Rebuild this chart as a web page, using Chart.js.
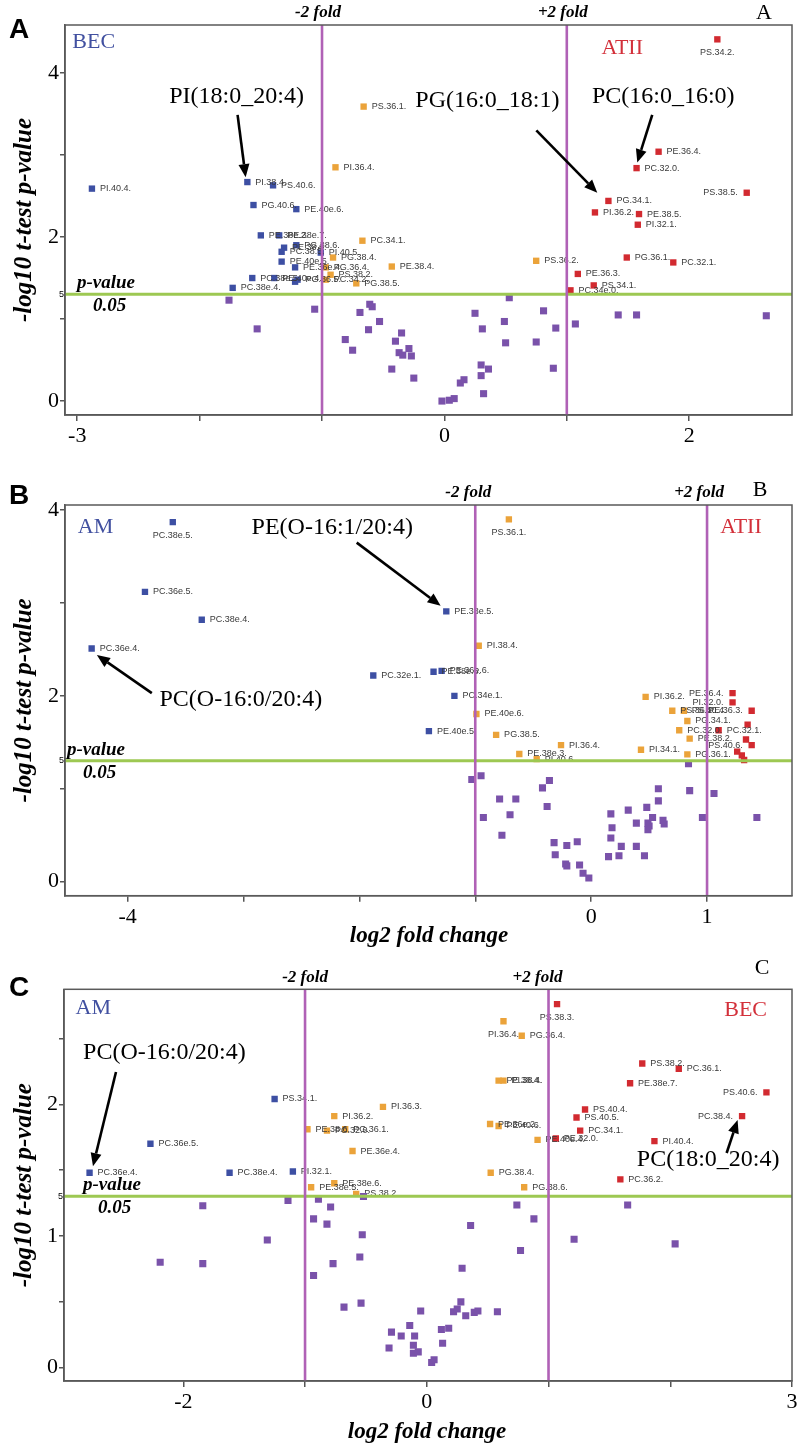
<!DOCTYPE html>
<html>
<head>
<meta charset="utf-8">
<script src="https://cdn.jsdelivr.net/npm/chart.js@4.4.0/dist/chart.umd.min.js"></script>
<style>
  html, body { margin: 0; padding: 0; background: #fff; }
  #wrap { position: relative; width: 797px; height: 1449px; overflow: hidden; }
  #wrap canvas { position: absolute; left: 0; }
</style>
</head>
<body>
<div id="wrap">
  <canvas id="chartA" width="797" height="450" style="top:0"></canvas>
  <canvas id="chartB" width="797" height="500" style="top:450px"></canvas>
  <canvas id="chartC" width="797" height="499" style="top:950px"></canvas>
</div>
<script>
// ---- Panel A: BEC vs ATII  [name, log2 fold change, -log10 p] ----
const aBlue = [
  ['PI.40.4.', -2.88, 2.59], ['PI.38.4.', -1.61, 2.67], ['PS.40.6.', -1.40, 2.63],
  ['PG.40.6.', -1.56, 2.39], ['PE.40e.6.', -1.21, 2.34], ['PE.38e.2.', -1.50, 2.02],
  ['PE.38e.7.', -1.35, 2.02], ['PG.38.6.', -1.21, 1.90], ['PE.38.6.', -1.31, 1.87],
  ['PC.38.5.', -1.33, 1.82], ['PI.40.5.', -1.01, 1.81], ['PE.40e.5.', -1.33, 1.70],
  ['PE.36e.4.', -1.22, 1.63], ['PC.38e.5.', -1.57, 1.50], ['PE.40e.4.', -1.39, 1.50],
  ['PG.36.5.', -1.20, 1.48], ['', -1.22, 1.455], ['PC.38e.4.', -1.73, 1.38]
];
const aOrange = [
  ['PS.36.1.', -0.66, 3.59], ['PI.36.4.', -0.89, 2.85], ['PC.34.1.', -0.67, 1.955],
  ['PG.38.4.', -0.91, 1.75], ['PE.38.4.', -0.43, 1.64], ['PG.36.4.', -0.97, 1.63],
  ['PS.38.2.', -0.93, 1.54], ['PC.34.2.', -0.97, 1.48], ['PG.38.5.', -0.72, 1.435],
  ['PS.36.2.', 0.75, 1.71]
];
const aRed = [
  ['PS.34.2.', 2.23, 4.41], ['PE.36.4.', 1.75, 3.04], ['PC.32.0.', 1.57, 2.84],
  ['PS.38.5.', 2.47, 2.54], ['PG.34.1.', 1.34, 2.44], ['PI.36.2.', 1.23, 2.30],
  ['PE.38.5.', 1.59, 2.28], ['PI.32.1.', 1.58, 2.15], ['PG.36.1.', 1.49, 1.75],
  ['PC.32.1.', 1.87, 1.69], ['PE.36.3.', 1.09, 1.55], ['PS.34.1.', 1.22, 1.41],
  ['PC.34e.0.', 1.03, 1.35]
];
const aPurple = [
  [-1.76, 1.23], [-1.06, 1.12], [-1.53, 0.88], [-0.61, 1.18], [-0.59, 1.15], [-0.69, 1.08],
  [-0.53, 0.97], [-0.62, 0.87], [-0.81, 0.75], [-0.75, 0.62], [-0.35, 0.83], [-0.40, 0.73],
  [-0.29, 0.64], [-0.37, 0.59], [-0.34, 0.56], [-0.27, 0.55], [-0.43, 0.39], [-0.25, 0.28],
  [0.53, 1.26], [0.25, 1.07], [0.81, 1.10], [0.31, 0.88], [0.49, 0.97], [0.91, 0.89],
  [1.07, 0.94], [1.42, 1.05], [1.57, 1.05], [2.63, 1.04], [0.50, 0.71], [0.75, 0.72],
  [0.30, 0.44], [0.36, 0.39], [0.30, 0.31], [0.89, 0.40], [0.16, 0.26], [0.13, 0.22],
  [0.32, 0.09], [-0.02, 0.00], [0.04, 0.01], [0.08, 0.03]
];
const aXLabels = [-3, 0, 2];
const aYLabels = [0, 2, 4];

// ---- Panel B: AM vs ATII ----
const bBlue = [
  ['PC.38e.5.', -3.61, 3.87], ['PC.36e.5.', -3.85, 3.12], ['PC.38e.4.', -3.36, 2.82],
  ['PC.36e.4.', -4.31, 2.51], ['PC.32e.1.', -1.88, 2.22], ['PE.38e.6.', -1.36, 2.26],
  ['PE.36e.6.', -1.29, 2.27], ['PE.38e.5.', -1.25, 2.91], ['PC.34e.1.', -1.18, 2.00],
  ['PE.40e.5.', -1.40, 1.62]
];
const bOrange = [
  ['PS.36.1.', -0.71, 3.90], ['PI.38.4.', -0.97, 2.54], ['PE.40e.6.', -0.99, 1.805],
  ['PG.38.5.', -0.82, 1.58], ['PI.36.4.', -0.26, 1.47], ['PE.38e.3.', -0.62, 1.375],
  ['PI.40.6.', -0.47, 1.32], ['PI.36.2.', 0.47, 1.99], ['PI.34.1.', 0.43, 1.42],
  ['PS.36.2.', 0.70, 1.84], ['PS.40.4.', 0.80, 1.84], ['PG.34.1.', 0.83, 1.73],
  ['PC.32.0.', 0.76, 1.63], ['PE.38.2.', 0.85, 1.54], ['PG.36.1.', 0.83, 1.37]
];
const bRed = [
  ['PE.36.4.', 1.22, 2.03], ['PI.32.0.', 1.22, 1.93], ['PE.36.3.', 1.385, 1.84],
  ['PC.32.1.', 1.10, 1.63], ['', 1.35, 1.69], ['', 1.336, 1.53],
  ['PS.40.6.', 1.385, 1.47], ['', 1.26, 1.40], ['', 1.30, 1.36], ['', 1.32, 1.31]
];
const bPurple = [
  [0.84, 1.27], [-1.03, 1.10], [-0.95, 1.14], [-0.36, 1.09], [-0.42, 1.01], [-0.79, 0.89],
  [-0.65, 0.89], [-0.38, 0.81], [-0.93, 0.69], [-0.70, 0.72], [-0.77, 0.50], [-0.32, 0.42],
  [-0.21, 0.39], [-0.12, 0.43], [-0.31, 0.29], [-0.22, 0.19], [-0.21, 0.17], [-0.10, 0.18],
  [-0.07, 0.09], [-0.02, 0.04], [0.17, 0.73], [0.18, 0.58], [0.17, 0.47], [0.15, 0.27],
  [0.24, 0.28], [0.26, 0.38], [0.32, 0.77], [0.39, 0.63], [0.39, 0.38], [0.46, 0.28],
  [0.48, 0.80], [0.49, 0.63], [0.50, 0.60], [0.49, 0.56], [0.53, 0.69], [0.58, 1.00],
  [0.58, 0.87], [0.62, 0.66], [0.63, 0.62], [0.85, 0.98], [0.96, 0.69], [1.06, 0.95],
  [1.43, 0.69]
];
const bXLabels = [-4, 0, 1];
const bYLabels = [0, 2, 4];

// ---- Panel C: AM vs BEC ----
const cBlue = [
  ['PS.34.1.', -1.25, 2.04], ['PC.36e.5.', -2.27, 1.70], ['PC.36e.4.', -2.77, 1.48],
  ['PC.38e.4.', -1.62, 1.48], ['PI.32.1.', -1.10, 1.49]
];
const cOrange = [
  ['PI.36.3.', -0.36, 1.98], ['PI.36.2.', -0.76, 1.91], ['PE.38.6.', -0.98, 1.81],
  ['PC.32.0.', -0.82, 1.80], ['PG.36.1.', -0.67, 1.81], ['PE.36e.4.', -0.61, 1.645],
  ['PE.38e.6.', -0.76, 1.40], ['PE.38e.5.', -0.95, 1.37], ['PS.38.2.', -0.58, 1.32],
  ['PI.36.4.', 0.63, 2.63], ['PG.36.4.', 0.78, 2.52], ['PE.38.4.', 0.59, 2.18],
  ['PI.38.4.', 0.63, 2.18], ['PE.36e.2.', 0.52, 1.85], ['PE.40.6.', 0.59, 1.835],
  ['PE.40e.4.', 0.91, 1.73], ['PG.38.4.', 0.525, 1.48], ['PG.38.6.', 0.80, 1.37]
];
const cRed = [
  ['PS.38.3.', 1.07, 2.76], ['PS.38.2.', 1.77, 2.31], ['PC.36.1.', 2.07, 2.27],
  ['PE.38e.7.', 1.67, 2.16], ['PS.40.6.', 2.79, 2.09], ['PC.38.4.', 2.59, 1.91],
  ['PS.40.4.', 1.30, 1.96], ['PS.40.5.', 1.23, 1.90], ['PC.34.1.', 1.26, 1.80],
  ['PE.32.0.', 1.06, 1.74], ['PI.40.4.', 1.87, 1.72], ['PC.36.2.', 1.59, 1.43]
];
const cPurple = [
  [-1.84, 1.23], [-1.14, 1.27], [-0.89, 1.28], [-0.79, 1.22], [-0.52, 1.30], [-0.93, 1.13],
  [-0.82, 1.09], [-0.53, 1.01], [-1.31, 0.97], [-0.55, 0.84], [-2.19, 0.80], [-1.84, 0.79],
  [-0.77, 0.79], [-0.93, 0.70], [-0.68, 0.46], [-0.54, 0.49], [-0.05, 0.43], [-0.29, 0.27],
  [-0.14, 0.32], [-0.21, 0.24], [-0.10, 0.24], [-0.11, 0.17], [-0.31, 0.15], [-0.11, 0.11],
  [-0.07, 0.12], [0.04, 0.04], [0.06, 0.06], [0.74, 1.235], [0.88, 1.13], [0.36, 1.08],
  [1.21, 0.975], [1.65, 1.235], [2.04, 0.94], [0.77, 0.89], [0.29, 0.755], [0.28, 0.50],
  [0.22, 0.425], [0.25, 0.445], [0.32, 0.395], [0.39, 0.42], [0.42, 0.43], [0.58, 0.425],
  [0.12, 0.29], [0.18, 0.30], [0.13, 0.185]
];
const cXLabels = [-2, 0, 3];
const cYLabels = [0, 1, 2];

const foldLines = [-1, 1];            // log2 of 2-fold
const pCut = -Math.log10(0.05);       // p = 0.05

const SERIF = '"Liberation Serif", "Times New Roman", serif';
const SANS = '"Liberation Sans", Arial, sans-serif';
const C_BLUE = '#3d4fa3', C_ORANGE = '#eba33a', C_RED = '#d22a30', C_PURPLE = '#7a52aa';
const C_FOLD = '#b061b6', C_PLINE = '#9dc852';
const T_BLUE = '#4150a0', T_RED = '#d3303a';

// layout in page pixels
const panels = [
  {
    id: 'chartA', top: 0, height: 450, area: { left: 65, top: 25, right: 793, bottom: 415 },
    x: [-3.1, 2.84], y: [-0.17, 4.585], yStep: 1,
    blue: aBlue, orange: aOrange, red: aRed, purple: aPurple, xLabels: aXLabels, yLabels: aYLabels,
    letter: 'A', letterPos: [19, 30], cornerPos: [764, 13], xTitle: [429, 462], foldDx: [-4, -4],
    pText: [77, 93],
    sides: { 'PS.34.2.': 'b', 'PS.38.5.': 'l' },
    groups: [['BEC', T_BLUE, -2.865, 4.38], ['ATII', T_RED, 1.453, 4.30]],
    notes: [
      ['PI(18:0_20:4)', -1.698, 3.71, -1.69, 3.49, -1.624, 2.73],
      ['PG(16:0_18:1)', 0.351, 3.66, 0.751, 3.30, 1.249, 2.54],
      ['PC(16:0_16:0)', 1.788, 3.71, 1.698, 3.49, 1.576, 2.91]
    ]
  },
  {
    id: 'chartB', top: 450, height: 500, area: { left: 65, top: 505, right: 792.7, bottom: 895.7 },
    x: [-4.54, 1.733], y: [-0.151, 4.055], yStep: 1,
    blue: bBlue, orange: bOrange, red: bRed, purple: bPurple, xLabels: bXLabels, yLabels: bYLabels,
    letter: 'B', letterPos: [19, 496], cornerPos: [760, 490], xTitle: [429, 936], foldDx: [-7, -8],
    pText: [67, 83],
    sides: { 'PC.38e.5.': 'b', 'PS.36.1.': 'b', 'PE.36.4.': 'l', 'PI.32.0.': 'l', 'PE.36.3.': 'l', 'PS.40.6.': 'l' },
    groups: [['AM', T_BLUE, -4.277, 3.82], ['ATII', T_RED, 1.293, 3.82]],
    notes: [
      ['PE(O-16:1/20:4)', -2.234, 3.81, -2.023, 3.65, -1.299, 2.97],
      ['PC(O-16:0/20:4)', -3.023, 1.96, -3.791, 2.03, -4.265, 2.44]
    ]
  },
  {
    id: 'chartC', top: 950, height: 499, area: { left: 64, top: 989.3, right: 792.7, bottom: 1381 },
    x: [-2.98, 3.0], y: [-0.101, 2.873], yStep: 0.5,
    blue: cBlue, orange: cOrange, red: cRed, purple: cPurple, xLabels: cXLabels, yLabels: cYLabels,
    letter: 'C', letterPos: [19, 988], cornerPos: [762, 968], xTitle: [427, 1432], foldDx: [0, -11],
    pText: [83, 98],
    sides: { 'PS.38.3.': 'b', 'PI.36.4.': 'b', 'PS.40.6.': 'l', 'PC.38.4.': 'l' },
    groups: [['AM', T_BLUE, -2.74, 2.73], ['BEC', T_RED, 2.619, 2.716]],
    notes: [
      ['PC(O-16:0/20:4)', -2.155, 2.39, -2.553, 2.245, -2.742, 1.53],
      ['PC(18:0_20:4)', 2.311, 1.577, 2.463, 1.63, 2.553, 1.88]
    ]
  }
];

function drawArrow(ctx, x1, y1, x2, y2) {
  const a = Math.atan2(y2 - y1, x2 - x1);
  const len = 13, half = 5.5;
  const bx = x2 - len * Math.cos(a), by = y2 - len * Math.sin(a);
  ctx.beginPath();
  ctx.moveTo(x1, y1);
  ctx.lineTo(bx, by);
  ctx.lineWidth = 2.6;
  ctx.stroke();
  ctx.beginPath();
  ctx.moveTo(x2, y2);
  ctx.lineTo(bx + half * Math.sin(a), by - half * Math.cos(a));
  ctx.lineTo(bx - half * Math.sin(a), by + half * Math.cos(a));
  ctx.closePath();
  ctx.fill();
}

const decor = {
  id: 'decor',
  // point labels, drawn right after each scatter set so the fold lines stay on top
  afterDatasetDraw(chart, args) {
    const ds = chart.data.datasets[args.index];
    if (!ds.names) return;
    const sides = chart.options.plugins.decor.p.sides;
    const ctx = chart.ctx;
    ctx.save();
    ctx.font = '9px ' + SANS;
    ctx.fillStyle = '#3a3a3a';
    args.meta.data.forEach((pt, i) => {
      const name = ds.names[i];
      if (!name) return;
      const side = sides[name] || 'r';
      if (side === 'b') {
        ctx.textAlign = 'center'; ctx.textBaseline = 'middle';
        ctx.fillText(name, pt.x, pt.y + 13);
      } else if (side === 'l') {
        ctx.textAlign = 'right'; ctx.textBaseline = 'middle';
        ctx.fillText(name, pt.x - 9, pt.y);
      } else {
        ctx.textAlign = 'left'; ctx.textBaseline = 'middle';
        ctx.fillText(name, pt.x + 8, pt.y);
      }
    });
    ctx.restore();
  },
  afterDraw(chart) {
    const p = chart.options.plugins.decor.p;
    const ctx = chart.ctx;
    const { left, top, right, bottom } = chart.chartArea;
    const xs = chart.scales.x, ys = chart.scales.y;
    const off = p.top;
    ctx.save();

    // frame
    ctx.strokeStyle = '#5a5a5a';
    ctx.lineWidth = 1.5;
    ctx.strokeRect(left, top, right - left, bottom - top);

    ctx.fillStyle = '#000';
    ctx.textAlign = 'center';
    ctx.textBaseline = 'middle';

    // fold labels
    ctx.font = 'italic bold 17px ' + SERIF;
    ['-2 fold', '+2 fold'].forEach((t, i) => {
      ctx.fillText(t, xs.getPixelForValue(foldLines[i]) + p.foldDx[i], top - 12);
    });

    // corner letter (serif) and bold panel letter
    ctx.font = '22px ' + SERIF;
    ctx.fillText(p.letter, p.cornerPos[0], p.cornerPos[1] - off);
    ctx.font = 'bold 28px ' + SANS;
    ctx.fillText(p.letter, p.letterPos[0], p.letterPos[1] - off);

    // p-value label
    const yp = ys.getPixelForValue(pCut);
    ctx.textAlign = 'left';
    ctx.font = 'italic bold 19px ' + SERIF;
    ctx.fillText('p-value', p.pText[0], yp - 11);
    ctx.fillText('0.05', p.pText[1], yp + 12);
    ctx.font = '9px ' + SANS;
    ctx.textAlign = 'right';
    ctx.fillText('5', left - 1, yp);

    // axis titles
    ctx.textAlign = 'center';
    ctx.font = 'italic bold 23px ' + SERIF;
    ctx.fillText('log2 fold change', p.xTitle[0], p.xTitle[1] - off);
    ctx.save();
    ctx.font = 'italic bold 25px ' + SERIF;
    ctx.translate(25, (top + bottom) / 2);
    ctx.rotate(-Math.PI / 2);
    ctx.fillText('-log10 t-test p-value', 0, 0);
    ctx.restore();

    // cell type labels
    ctx.font = '22px ' + SERIF;
    p.groups.forEach(([t, col, gx, gy]) => {
      ctx.fillStyle = col;
      ctx.fillText(t, xs.getPixelForValue(gx), ys.getPixelForValue(gy));
    });

    // lipid call-outs with arrows
    ctx.fillStyle = '#000';
    ctx.strokeStyle = '#000';
    ctx.font = '24px ' + SERIF;
    p.notes.forEach(([t, tx, ty, x1, y1, x2, y2]) => {
      ctx.fillText(t, xs.getPixelForValue(tx), ys.getPixelForValue(ty));
      drawArrow(ctx, xs.getPixelForValue(x1), ys.getPixelForValue(y1),
        xs.getPixelForValue(x2), ys.getPixelForValue(y2));
    });
    ctx.restore();
  }
};

function pointSet(rows, color, radius, named) {
  return {
    data: rows.map(r => named ? { x: r[1], y: r[2] } : { x: r[0], y: r[1] }),
    names: named ? rows.map(r => r[0]) : null,
    pointStyle: 'rect', pointRadius: radius, backgroundColor: color,
    borderWidth: 0, order: 1
  };
}

function lineSet(xsArr, ysArr, color, width) {
  return {
    data: [{ x: xsArr[0], y: ysArr[0] }, { x: xsArr[1], y: ysArr[1] }],
    showLine: true, pointRadius: 0, borderColor: color, borderWidth: width, order: 0
  };
}

const tickFont = { family: SERIF, size: 22 };
const near = (v, list) => list.some(l => Math.abs(l - v) < 1e-6);

panels.forEach(p => {
  const a = p.area;
  new Chart(document.getElementById(p.id), {
    type: 'scatter',
    data: {
      datasets: [
        lineSet([foldLines[0], foldLines[0]], p.y, C_FOLD, 2.6),
        lineSet([foldLines[1], foldLines[1]], p.y, C_FOLD, 2.6),
        lineSet(p.x, [pCut, pCut], C_PLINE, 3),
        pointSet(p.purple, C_PURPLE, 5, false),
        pointSet(p.blue, C_BLUE, 4.5, true),
        pointSet(p.orange, C_ORANGE, 4.5, true),
        pointSet(p.red, C_RED, 4.5, true)
      ]
    },
    options: {
      responsive: false,
      animation: false,
      events: [],
      layout: { padding: { left: 0, top: a.top - p.top, right: 797 - a.right, bottom: 0 } },
      plugins: { legend: { display: false }, tooltip: { enabled: false }, decor: { p } },
      scales: {
        x: {
          type: 'linear', min: p.x[0], max: p.x[1],
          afterFit: s => { s.height = p.top + p.height - a.bottom; s.paddingLeft = 0; s.paddingRight = 0; },
          ticks: {
            stepSize: 1, includeBounds: false, autoSkip: false, maxRotation: 0, padding: 2,
            color: '#000', font: tickFont,
            callback: v => near(v, p.xLabels) ? String(v) : ''
          },
          grid: { drawOnChartArea: false, drawTicks: true, tickLength: 6, color: '#555', lineWidth: 1.5 },
          border: { color: '#555', width: 1.5 }
        },
        y: {
          type: 'linear', min: p.y[0], max: p.y[1],
          afterFit: s => { s.width = a.left; s.paddingTop = 0; s.paddingBottom = 0; },
          ticks: {
            stepSize: p.yStep, includeBounds: false, autoSkip: false, padding: 1,
            color: '#000', font: tickFont,
            callback: v => near(v, p.yLabels) ? String(v) : ''
          },
          grid: { drawOnChartArea: false, drawTicks: true, tickLength: 5, color: '#555', lineWidth: 1.5 },
          border: { color: '#555', width: 1.5 }
        }
      }
    },
    plugins: [decor]
  });
});
</script>
</body>
</html>
